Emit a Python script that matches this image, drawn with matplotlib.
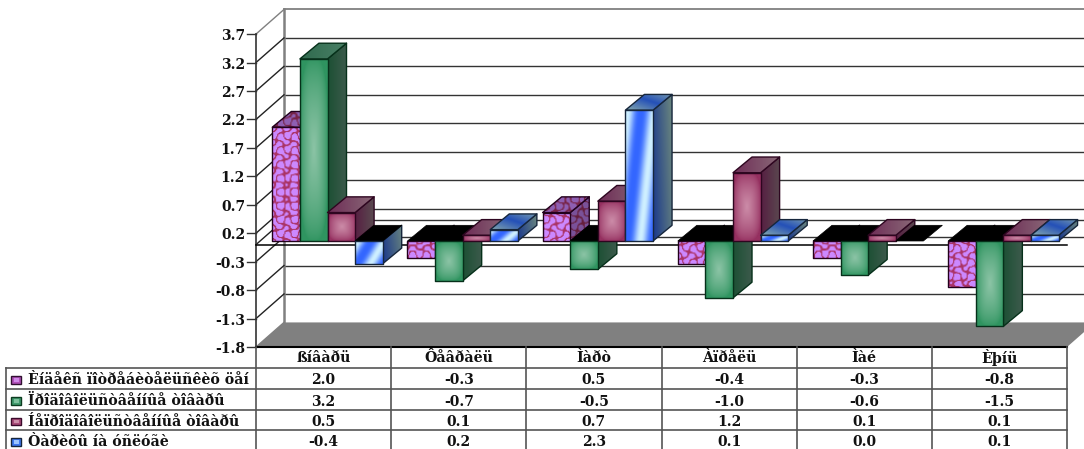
import numpy as np
import matplotlib
matplotlib.use('Agg')
import matplotlib.pyplot as plt
from matplotlib.patches import Polygon, Rectangle

months = ['ßíâàðü', 'Ôåâðàëü', 'Ìàðò', 'Àïðåëü', 'Ìàé', 'Èþíü']
series_names = ['Èíäåêñ ïîòðåáèòåëüñêèõ öåí', 'Ïðîäîâîëüñòâåííûå òîâàðû',
                'Íåïðîäîâîëüñòâåííûå òîâàðû', 'Òàðèôû íà óñëóãè']
cpi = [2.0, -0.3, 0.5, -0.4, -0.3, -0.8]
food = [3.2, -0.7, -0.5, -1.0, -0.6, -1.5]
nonfood = [0.5, 0.1, 0.7, 1.2, 0.1, 0.1]
services = [-0.4, 0.2, 2.3, 0.1, 0.0, 0.1]
y_ticks = [3.7, 3.2, 2.7, 2.2, 1.7, 1.2, 0.7, 0.2, -0.3, -0.8, -1.3, -1.8]

CAT_W = 135.17
UNIT = 56.9
ZERO_PY = 244.6
LEFT = 256
FONT = 'DejaVu Serif'

fig = plt.figure(figsize=(10.84, 4.49), dpi=100)
ax = fig.add_axes([0, 0, 1, 1])
ax.set_xlim(-LEFT / CAT_W, (1084 - LEFT) / CAT_W)
ax.set_ylim((ZERO_PY - 449) / UNIT, ZERO_PY / UNIT)
ax.axis('off')
ax.set_autoscale_on(False)

# pixel overlay for the table
tb = fig.add_axes([0, 0, 1, 1])
tb.set_xlim(0, 1084)
tb.set_ylim(449, 0)
tb.axis('off')
tb.patch.set_alpha(0)

wall_dx = 28 / CAT_W
wall_dy = 24.6 / UNIT
n = len(months)

# floor
floor = Polygon([(0, -1.8), (wall_dx, -1.8 + wall_dy), (n + wall_dx, -1.8 + wall_dy), (n, -1.8)],
                closed=True, fc='#808080', ec='none', zorder=1)
ax.add_patch(floor)

# back wall grid
for v in y_ticks[1:-1] + [0.0]:
    ax.plot([wall_dx, n + wall_dx], [v + wall_dy, v + wall_dy], color='#333333', lw=1.0, zorder=2)
ax.plot([wall_dx, n + wall_dx], [3.7 + wall_dy, 3.7 + wall_dy], color='#808080', lw=1.3, zorder=2)
ax.plot([wall_dx, wall_dx], [-1.8 + wall_dy, 3.7 + wall_dy], color='#808080', lw=1.8, zorder=2)

# side wall lines and ticks
for v in y_ticks + [0.0]:
    c = '#808080' if v == 3.7 or v == -1.8 else '#222222'
    ax.plot([0, wall_dx], [v, v + wall_dy], color=c, lw=1.0, zorder=2)
for v in y_ticks:
    ax.plot([-9 / CAT_W, 0], [v, v], color='#333333', lw=1.0, zorder=2)
    ax.text(-11 / CAT_W, v - 2 / UNIT, '%.1f' % v, ha='right', va='center', family=FONT,
            fontweight='bold', fontsize=10, color='#111111')
ax.plot([0, 0], [-1.8, 3.7], color='#333333', lw=1.2, zorder=2)
ax.plot([0, n], [0, 0], color='black', lw=1.1, zorder=3)


def mix(a, b, t):
    a = np.array(matplotlib.colors.to_rgb(a))
    b = np.array(matplotlib.colors.to_rgb(b))
    return a + (b - a) * t[..., None]


def rect_glow(edge, mid):
    def f(u, v, px, py):
        a, b = np.abs(2 * u - 1), np.abs(2 * v - 1)
        t = 1 - np.clip((a ** 3 + b ** 3) ** (1 / 3), 0, 1)
        return mix(edge, mid, t ** 0.7)
    return f


def across(c0, c1):
    def f(u, v, px, py):
        return mix(c0, c1, u)
    return f


def blotch(light, dark, shade=1.0):
    def f(u, v, px, py):
        s = (np.sin(px * 0.45) * np.sin(py * 0.45)
             + 0.7 * np.cos((px + py) * 0.24) * np.cos((px - py) * 0.24))
        t = np.clip((np.abs(s) - 0.22) * 6, 0, 1)
        return mix(light, dark, 1 - t) * shade
    return f


def blue_front(u, v, px, py):
    s = u - 0.5 * v
    t = 0.5 + 0.5 * np.cos(2 * np.pi * (s - 0.55) / 0.95)
    return mix('#3366ff', '#cff0ff', t ** 1.4)


def blue_side(u, v, px, py):
    return mix('#1c3a8c', '#64807f', np.clip(u * 0.9 + 0.25 * v - 0.05, 0, 1))


def blue_top(u, v, px, py):
    t = np.abs((u + v) - 1.1) / 1.0
    return mix('#2450b8', '#7ea2ae', np.clip(t, 0, 1))


styles = [
    {'front': blotch('#cc88ff', '#aa3366'), 'side': blotch('#cc88ff', '#aa3366', 0.6),
     'top': blotch('#cc88ff', '#aa3366', 0.7), 'edge': '#22001c'},
    {'front': rect_glow('#2f9460', '#8cc4a6'), 'side': across('#1c5034', '#3d5a4c'),
     'top': across('#2f6a4e', '#4a8066'), 'edge': '#06301a'},
    {'front': rect_glow('#953060', '#cc8ca8'), 'side': across('#571f42', '#5a4a50'),
     'top': across('#6e2c56', '#8a6a78'), 'edge': '#2e0620'},
    {'front': blue_front, 'side': blue_side, 'top': blue_top, 'edge': '#16263c'},
]

gap = 16.3 / CAT_W
bar_w = 27.6 / CAT_W
base = 3.6 / UNIT
depth_x = 19 / CAT_W
depth_y = 15.7 / UNIT


def face(pts, shader, edge, z):
    pts = np.array(pts)
    x0, y0 = pts.min(axis=0)
    x1, y1 = pts.max(axis=0)
    poly = Polygon(pts, closed=True, fc='none', ec=edge, lw=1.0, zorder=z + 0.1, joinstyle='round')
    if y1 - y0 > 1e-6 and x1 - x0 > 1e-6:
        nx = max(int((x1 - x0) * CAT_W), 2)
        ny = max(int((y1 - y0) * UNIT), 2)
        u, v = np.meshgrid((np.arange(nx) + 0.5) / nx, (np.arange(ny) + 0.5) / ny)
        px = (x0 + u * (x1 - x0)) * CAT_W
        py = (y0 + v * (y1 - y0)) * UNIT
        rgb = np.clip(shader(u, v, px, py), 0, 1)
        im = ax.imshow(rgb, extent=(x0, x1, y0, y1), origin='lower', aspect='auto',
                       interpolation='bilinear', zorder=z)
        ax.add_patch(poly)
        im.set_clip_path(poly)
    else:
        ax.add_patch(poly)


all_vals = [cpi, food, nonfood, services]
z = 4
for i in range(n):
    for k, vals in enumerate(all_vals):
        st = styles[k]
        x = i + gap + k * bar_w
        y0 = base
        y1 = base + vals[i]
        low, high = min(y0, y1), max(y0, y1)
        xr = x + bar_w
        side = [(xr, low), (xr + depth_x, low + depth_y), (xr + depth_x, high + depth_y), (xr, high)]
        top = [(x, high), (x + depth_x, high + depth_y), (xr + depth_x, high + depth_y), (xr, high)]
        front = [(x, low), (xr, low), (xr, high), (x, high)]
        if high - low > 1e-6:
            face(side, st['side'], st['edge'], z)
        if vals[i] > 0:
            face(top, st['top'], st['edge'], z + 1)
        else:
            ax.add_patch(Polygon(top, closed=True, fc='black', ec='black', lw=0.5, zorder=z + 1))
        if high - low > 1e-6:
            face(front, st['front'], st['edge'], z + 2)
        z += 3

# table
col_x = [LEFT + CAT_W * j for j in range(n + 1)]
row_y = [346.5, 368, 389, 410, 430, 451]
line_c = '#555555'
tb.plot([LEFT, col_x[-1]], [row_y[0], row_y[0]], color='black', lw=1.5)
for y in row_y[1:]:
    tb.plot([6, col_x[-1]], [y, y], color=line_c, lw=1.2)
for x in col_x:
    tb.plot([x, x], [row_y[0], 449], color=line_c, lw=1.2)
tb.plot([6, 6], [row_y[1], 449], color=line_c, lw=1.2)
for j, m in enumerate(months):
    tb.text(col_x[j] + CAT_W / 2, 358, m, ha='center', va='center', family=FONT,
            fontweight='bold', fontsize=10.2, color='#111111')
    for r, vals in enumerate(all_vals):
        tb.text(col_x[j] + CAT_W / 2, (row_y[r + 1] + row_y[r + 2]) / 2 + 2, '%.1f' % vals[j],
                ha='center', va='center', family=FONT, fontweight='bold', fontsize=10, color='#111111')
key_colors = ['#b050b8', '#3f9a6c', '#a84a78', '#3f78f0']
key_inner = ['#d088e8', '#7cc09c', '#cc8ca8', '#9cc4ff']
key_edges = ['#301030', '#0c3c20', '#3a0a2a', '#16263c']
for r, name in enumerate(series_names):
    yc = (row_y[r + 1] + row_y[r + 2]) / 2 + 1
    tb.add_patch(Rectangle((11, yc - 3.5), 10, 7.5, fc=key_colors[r], ec=key_edges[r], lw=1))
    tb.add_patch(Rectangle((13.5, yc - 1.5), 5, 3.5, fc=key_inner[r], ec='none'))
    tb.text(28, yc + 0.5, name, ha='left', va='center', family=FONT, fontweight='bold',
            fontsize=10.2, color='#111111')

fig.savefig('out.png', dpi=100)
